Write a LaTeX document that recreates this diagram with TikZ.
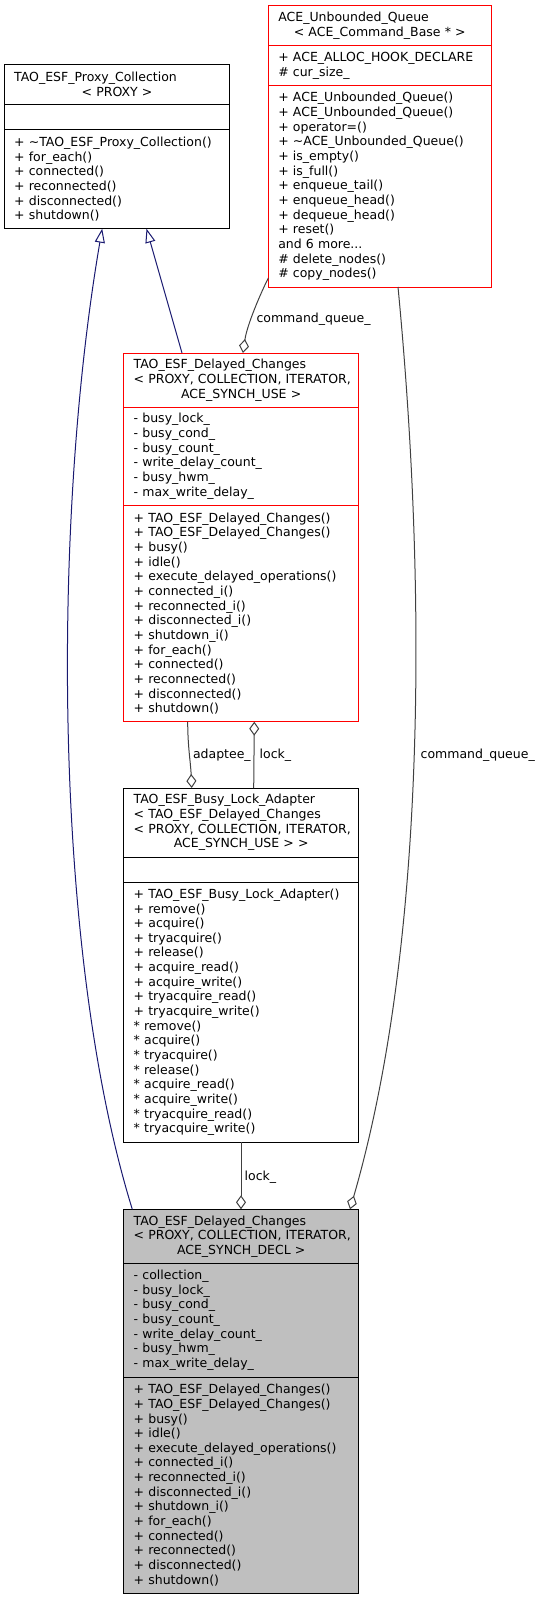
\documentclass[tikz,border=0pt]{standalone}
\usepackage{fontspec}
\setmainfont{DejaVu Sans}
\usetikzlibrary{arrows.meta,calc,positioning}
\definecolor{inhblue}{HTML}{191970}
\definecolor{linkgray}{HTML}{404040}
\definecolor{boxred}{HTML}{FF0000}
\definecolor{boxgray}{HTML}{BFBFBF}
\hyphenpenalty=10000
\exhyphenpenalty=10000

\tikzset{
  classpart/.style={draw=black, line width=1pt, outer sep=0pt, inner xsep=10pt, inner ysep=0pt,
    align=left, anchor=north west, font=\fontsize{12.5}{14.65}\selectfont},
  redpart/.style={classpart, draw=boxred},
  greypart/.style={classpart, fill=boxgray},
  edgelabel/.style={anchor=base west, inner sep=0pt, font=\fontsize{12.5}{14.65}\selectfont},
  inherit/.style={draw=inhblue, line width=1pt, -{Triangle[open, length=14pt, width=10pt]}},
  member/.style={draw=linkgray, line width=1pt, {Diamond[open, length=14pt, width=10pt]}-}
}

\begin{document}
\begin{tikzpicture}[x=1pt, y=-1pt]
  \useasboundingbox (0,0) rectangle (547,1600);

  %%%%% CLASSES %%%%%

  % TAO_ESF_Proxy_Collection
  \node[classpart, text width=205.7pt, minimum height=40.4pt] (proxy) at (4.2,64.3)
    {TAO\_ESF\_Proxy\_Collection\\\makebox[\linewidth]{< PROXY >}};
  \node[classpart, text width=205.7pt, minimum height=25pt, below=0pt of proxy] (proxyattr) {};
  \node[classpart, text width=205.7pt, minimum height=99pt, below=0pt of proxyattr] (proxyops)
    {+~\textasciitilde TAO\_ESF\_Proxy\_Collection()\\
     + for\_each()\\
     + connected()\\
     + reconnected()\\
     + disconnected()\\
     + shutdown()};

  % ACE_Unbounded_Queue
  \node[redpart, text width=202.9pt, minimum height=40.3pt] (queue) at (268.3,5.7)
    {ACE\_Unbounded\_Queue\\\makebox[\linewidth]{< ACE\_Command\_Base * >}};
  \node[redpart, text width=202.9pt, minimum height=40pt, below=0pt of queue] (queueattr)
    {+~ACE\_ALLOC\_HOOK\_DECLARE\\
     \# cur\_size\_};
  \node[redpart, text width=202.9pt, minimum height=201pt, below=0pt of queueattr] (queueops)
    {+ ACE\_Unbounded\_Queue()\\
     + ACE\_Unbounded\_Queue()\\
     + operator=()\\
     + \textasciitilde ACE\_Unbounded\_Queue()\\
     + is\_empty()\\
     + is\_full()\\
     + enqueue\_tail()\\
     + enqueue\_head()\\
     + dequeue\_head()\\
     + reset()\\
     and 6 more...\\
     \# delete\_nodes()\\
     \# copy\_nodes()};

  % TAO_ESF_Delayed_Changes < ..., ACE_SYNCH_USE >
  \node[redpart, text width=215pt, minimum height=54.3pt] (chuse) at (123.7,353)
    {TAO\_ESF\_Delayed\_Changes\\
     <~PROXY,~COLLECTION,~ITERATOR,\\
     \makebox[\linewidth]{ACE\_SYNCH\_USE >}};
  \node[redpart, text width=215pt, minimum height=98pt, below=0pt of chuse] (chuseattr)
    {- busy\_lock\_\\
     - busy\_cond\_\\
     - busy\_count\_\\
     - write\_delay\_count\_\\
     - busy\_hwm\_\\
     - max\_write\_delay\_};
  \node[redpart, text width=215pt, minimum height=216.4pt, below=0pt of chuseattr] (chuseops)
    {+ TAO\_ESF\_Delayed\_Changes()\\
     + TAO\_ESF\_Delayed\_Changes()\\
     + busy()\\
     + idle()\\
     + execute\_delayed\_operations()\\
     + connected\_i()\\
     + reconnected\_i()\\
     + disconnected\_i()\\
     + shutdown\_i()\\
     + for\_each()\\
     + connected()\\
     + reconnected()\\
     + disconnected()\\
     + shutdown()};

  % TAO_ESF_Busy_Lock_Adapter
  \node[classpart, text width=215pt, minimum height=69.3pt] (adapter) at (123.7,788)
    {TAO\_ESF\_Busy\_Lock\_Adapter\\
     <~TAO\_ESF\_Delayed\_Changes\\
     <~PROXY,~COLLECTION,~ITERATOR,\\
     \makebox[\linewidth]{ACE\_SYNCH\_USE > >}};
  \node[classpart, text width=215pt, minimum height=25pt, below=0pt of adapter] (adapterattr) {};
  \node[classpart, text width=215pt, minimum height=260pt, below=0pt of adapterattr] (adapterops)
    {+~TAO\_ESF\_Busy\_Lock\_Adapter()\\
     + remove()\\
     + acquire()\\
     + tryacquire()\\
     + release()\\
     + acquire\_read()\\
     + acquire\_write()\\
     + tryacquire\_read()\\
     + tryacquire\_write()\\
     {*} remove()\\
     {*} acquire()\\
     {*} tryacquire()\\
     {*} release()\\
     {*} acquire\_read()\\
     {*} acquire\_write()\\
     {*} tryacquire\_read()\\
     {*} tryacquire\_write()};

  % TAO_ESF_Delayed_Changes < ..., ACE_SYNCH_DECL >
  \node[greypart, text width=215pt, minimum height=54.4pt] (chdecl) at (123.7,1209.3)
    {TAO\_ESF\_Delayed\_Changes\\
     <~PROXY,~COLLECTION,~ITERATOR,\\
     \makebox[\linewidth]{ACE\_SYNCH\_DECL >}};
  \node[greypart, text width=215pt, minimum height=113.3pt, below=0pt of chdecl] (chdeclattr)
    {- collection\_\\
     - busy\_lock\_\\
     - busy\_cond\_\\
     - busy\_count\_\\
     - write\_delay\_count\_\\
     - busy\_hwm\_\\
     - max\_write\_delay\_};
  \node[greypart, text width=215pt, minimum height=216pt, below=0pt of chdeclattr] (chdeclops)
    {+ TAO\_ESF\_Delayed\_Changes()\\
     + TAO\_ESF\_Delayed\_Changes()\\
     + busy()\\
     + idle()\\
     + execute\_delayed\_operations()\\
     + connected\_i()\\
     + reconnected\_i()\\
     + disconnected\_i()\\
     + shutdown\_i()\\
     + for\_each()\\
     + connected()\\
     + reconnected()\\
     + disconnected()\\
     + shutdown()};

  %%%%% LINKS %%%%%

  \draw[inherit] ($(chuse.north west)+(58.3,0)$) -- ($(proxyops.south west)+(142.3,0)$);
  \draw[inherit] ($(chdecl.north west)+(8.6,0)$)
    .. controls +(-80,-259) and +(-50,291) .. ($(proxyops.south west)+(98,0)$);

  \draw[member] ($(chuse.north west)+(119.3,0)$)
    .. controls +(4,-28) and +(-8,16) .. ($(queueops.south west)+(0,-9)$);
  \draw[member] ($(chdecl.north west)+(226.3,0)$)
    .. controls +(75,-259) and +(30,313) .. ($(queueops.south west)+(129.7,0)$);

  \draw[member] ($(adapter.north west)+(68,0)$)
    .. controls +(-1,-25) and +(0,25) .. ($(chuseops.south west)+(64,0)$);
  \draw[member] ($(chuseops.south west)+(130.6,0)$) -- ($(adapter.north west)+(130,0)$);
  \draw[member] ($(chdecl.north west)+(117.3,0)$) -- ($(adapterops.south west)+(117.3,0)$);

  \node[edgelabel] (cqlabel) at (256.3,322.8) {command\_queue\_};
  \node[edgelabel] (cqlabelfar) at (420.5,758) {command\_queue\_};
  \node[edgelabel] (adapteelabel) at (192.8,758) {adaptee\_};
  \node[edgelabel] (locklabel) at (259.5,758) {lock\_};
  \node[edgelabel] (locklabellow) at (244.5,1180) {lock\_};

\end{tikzpicture}
\end{document}
